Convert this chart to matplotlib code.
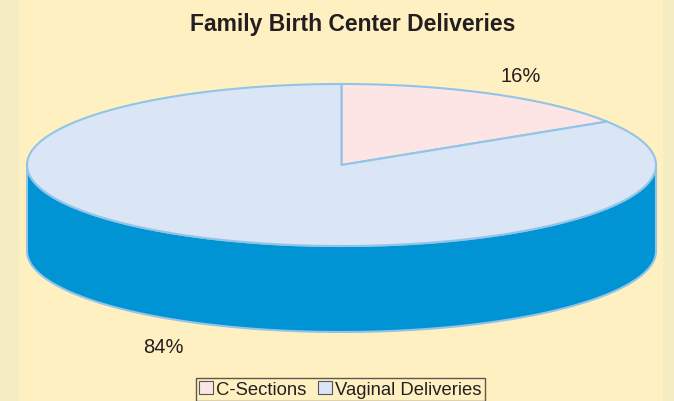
import numpy as np
import matplotlib.pyplot as plt
from matplotlib.patches import Polygon, Patch

# data
labels = ['C-Sections', 'Vaginal Deliveries']
values = [16, 84]
top_colors = ['#FDE5E5', '#DAE6F5']
side_colors = ['#F5B8B8', '#0094D4']
pct_pos = [(521, 76), (163, 348)]

plt.rcParams['font.family'] = ['Liberation Sans', 'DejaVu Sans']

bg = '#FFF0C2'
edge = '#92C4E8'
txt = '#231F20'

fig = plt.figure(figsize=(6.74, 4.02), dpi=100, facecolor=bg)
ax = fig.add_axes([0, 0, 1, 1])
ax.set_xlim(0, 674)
ax.set_ylim(402, 0)
ax.axis('off')

# side strips
ax.add_patch(Polygon([(0, 0), (19, 0), (19, 402), (0, 402)], closed=True, fc='#F5EDC2', ec='none'))
ax.add_patch(Polygon([(663, 0), (674, 0), (674, 402), (663, 402)], closed=True, fc='#F5EDC2', ec='none'))

cx, cy = 341.5, 166
a, b = 314.5, 81
depth = 86


def pt(t, dy=0):
    return cx + a * np.cos(t), cy - b * np.sin(t) + dy


# slice angles, clockwise from 12 o'clock
fracs = np.array(values) / np.sum(values)
starts = np.pi / 2 - 2 * np.pi * np.concatenate([[0], np.cumsum(fracs)[:-1]])
ends = starts - 2 * np.pi * fracs

# sides (front half only)
for s, e, sc in zip(starts, ends, side_colors):
    t = np.linspace(e, s, 400)
    tm = np.mod(t, 2 * np.pi)
    vis = (tm >= np.pi) & (tm <= 2 * np.pi)
    if not vis.any():
        continue
    tv = t[vis]
    xs, ys = pt(tv)
    xb, yb = pt(tv[::-1], depth)
    poly = np.column_stack([np.concatenate([xs, xb]), np.concatenate([ys, yb])])
    ax.add_patch(Polygon(poly, closed=True, fc=sc, ec=edge, lw=1.5, joinstyle='round'))

# top faces
for s, e, tc in zip(starts, ends, top_colors):
    t = np.linspace(s, e, 300)
    xs, ys = pt(t)
    poly = np.column_stack([np.concatenate([[cx], xs]), np.concatenate([[cy], ys])])
    ax.add_patch(Polygon(poly, closed=True, fc=tc, ec=edge, lw=1.5, joinstyle='round'))

# percent labels
for v, (x, y) in zip(values, pct_pos):
    ax.text(x, y, f'{v}%', ha='center', va='center', fontsize=14.5, color=txt)

ax.text(353, 25, 'Family Birth Center Deliveries', ha='center', va='center',
        fontsize=16.5, fontweight='bold', color=txt)

handles = [Patch(fc=c, ec='#555555', lw=0.8) for c in top_colors]
leg = fig.legend(handles, labels, loc='upper center', bbox_to_anchor=(0.505, 1 - 379 / 402),
                 ncol=2, frameon=True, fancybox=False, fontsize=13.3,
                 handlelength=0.75, handleheight=0.75, handletextpad=0.2,
                 columnspacing=0.6, borderpad=0.15, borderaxespad=0)
leg.get_frame().set_edgecolor('#333333')
leg.get_frame().set_facecolor(bg)
leg.get_frame().set_linewidth(1.0)
for t in leg.get_texts():
    t.set_color(txt)

fig.savefig('out.png', dpi=100, facecolor=bg)
